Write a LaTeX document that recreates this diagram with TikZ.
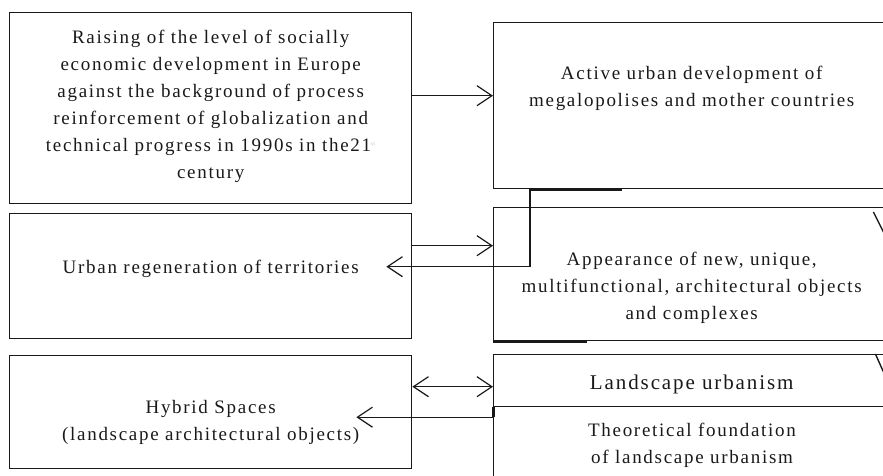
\documentclass[tikz,border=0pt]{standalone}
\usepackage{fontspec}
\setmainfont[LetterSpace=9]{Liberation Serif}
\usepackage{tikz}
\usetikzlibrary{arrows.meta}
\usetikzlibrary{positioning}

\tikzset{
    box/.style={draw, line width=1.4pt, rectangle, anchor=north west, inner sep=0pt},
    txt/.style={align=center, font=\fontsize{19}{27}\selectfont, inner sep=0pt},
    link/.style={line width=1.4pt},
    >={Straight Barb[length=15pt,width=20pt,line width=1.2pt]}
}

\begin{document}
\begin{tikzpicture}[x=1pt,y=-1pt,black!90]
    \useasboundingbox (0,0) rectangle (883,476);
    \clip (0,0) rectangle (883,476);

    % left column
    \node[box, minimum width=402pt, minimum height=191pt] (raise) at (9,12) {};
    \node[box, minimum width=402pt, minimum height=125pt] (regen) at (9,213) {};
    \node[box, minimum width=402pt, minimum height=113pt] (hybrid) at (9,355) {};

    % right column
    \node[box, minimum width=396pt, minimum height=166pt] (active) at (493,22) {};
    \node[box, minimum width=396pt, minimum height=133pt] (appear) at (493,207) {};
    \node[box, minimum width=396pt, minimum height=52pt] (land) at (493,354) {};
    \node[box, minimum width=396pt, minimum height=90pt] (theory) at (493,406) {};

    % texts
    \node[txt] (raisetxt) at ([yshift=2pt]raise.center)
        {Raising of the level of socially\\ economic development in Europe\\
         against the background of process\\ reinforcement of globalization and\\
         technical progress in 1990s in the21\textsuperscript{\tiny\color{gray!60}st}\\ century};
    \node[txt] (activetxt) at ([yshift=17pt]active.center)
        {Active urban development of\\ megalopolises and mother countries};
    \node[txt] (regentxt) at ([yshift=7pt]regen.center) {Urban regeneration of territories};
    \node[txt] (appeartxt) at ([yshift=-14pt]appear.center)
        {Appearance of new, unique,\\ multifunctional, architectural objects\\ and complexes};
    \node[txt] (hybridtxt) at ([yshift=-10pt]hybrid.center)
        {Hybrid Spaces\\ (landscape architectural objects)};
    \node[txt, font=\fontsize{21}{27}\selectfont] (landtxt) at ([yshift=-4pt]land.center) {Landscape urbanism};
    \node[txt] (theorytxt) at (692,445)
        {Theoretical foundation\\ of landscape urbanism};

    % connectors
    \draw[link,->] ([yshift=12.5pt]raise.east) -- ([yshift=12.5pt]raise.east -| active.west);
    \draw[link,->] ([yshift=30.5pt]regen.east) -- ([yshift=30.5pt]regen.east -| appear.west);
    \draw[line width=3pt] ([xshift=37pt]active.south west) -- ([xshift=129pt]active.south west);
    \draw[link,->] ([xshift=37pt]active.south west) |- ([xshift=-26pt,yshift=9.5pt]regen.east);
    \draw[link,<->] ([yshift=25.5pt]hybrid.east) -- ([yshift=25.5pt]hybrid.east -| land.west);
    \draw[line width=3pt] (appear.south west) -- ([xshift=94pt]appear.south west);
    \draw[line width=3pt] (land.south west) -- ([yshift=-10pt]land.south west);
    \draw[link,->] (land.south west) |- ([xshift=-56pt,yshift=-5pt]hybrid.east);

    % barbs cut by the right edge
    \draw[link] ([xshift=-17pt,yshift=-5pt]appear.north east) -- ([xshift=-6pt,yshift=-27pt]appear.north east);
    \draw[link] ([xshift=-15pt]land.north east) -- ([xshift=-6pt,yshift=-20pt]land.north east);
\end{tikzpicture}
\end{document}
